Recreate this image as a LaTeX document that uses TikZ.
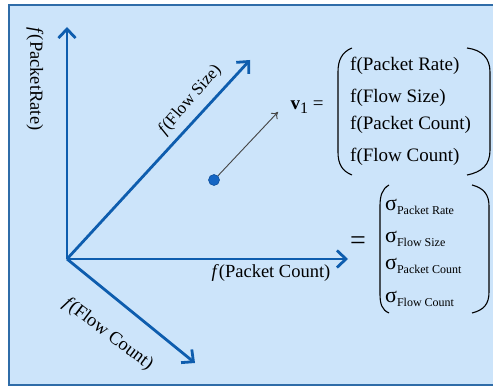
\documentclass[tikz,border=0pt]{standalone}
\usepackage{fontspec}
\setmainfont{Liberation Serif}
\usetikzlibrary{arrows.meta}
\definecolor{bgblue}{HTML}{CCE4FA}
\definecolor{frameblue}{HTML}{2F6CA8}
\definecolor{axisblue}{HTML}{0E5DAE}
\definecolor{dotblue}{HTML}{1566C4}
\definecolor{vecgray}{HTML}{444444}
\begin{document}
\begin{tikzpicture}[x=1pt,y=-1pt,
  axis/.style={line width=2.8pt, draw=axisblue, -{Straight Barb[length=9pt,width=17pt]}},
  lbl/.style={font=\fontsize{18.5}{20}\selectfont, inner sep=0pt},
  row/.style={font=\fontsize{19}{21}\selectfont, inner sep=0pt, anchor=west},
  paren/.style={line width=1.1pt, draw=black}]
\useasboundingbox (0,0) rectangle (493,387);
\fill[bgblue] (8.5,5) rectangle (493,385.5);
\draw[frameblue, line width=2pt] (493,5) -- (8.5,5) -- (8.5,385.5) -- (493,385.5);

% axes
\coordinate (O) at (67,259);
\coordinate (ytop) at (67,27);
\coordinate (fsend) at (250,60);
\coordinate (pcend) at (348,259);
\coordinate (fcend) at (195,363);
\draw[axis] (O) -- (ytop);
\draw[axis] (O) -- (fsend);
\draw[axis] (O) -- (pcend);
\draw[axis] (O) -- (fcend);

% axis labels
\node[lbl, rotate=-90] (lpr) at (35,79) {\textit{f}(PacketRate)};
\node[lbl, rotate=49, font=\fontsize{17}{19}\selectfont] (lfs) at (190,100) {\textit{f}(Flow Size)};
\node[lbl] (lpc) at (271,273) {\textit{f}(Packet Count)};
\node[lbl, rotate=-37] (lfc) at (108,334) {\textit{f}(Flow Count)};

% point and vector
\node[circle, fill=dotblue, draw=dotblue!80!black, line width=0.6pt, minimum size=11pt, inner sep=0pt] (dot) at (214,180) {};
\coordinate (vtip) at (278,112);
\draw[vecgray, line width=0.9pt, -{To[length=6pt,width=9pt]}] (dot) -- (vtip);

% v1 =
\node[lbl, font=\fontsize{19}{21}\selectfont] (v1) at (307,107) {\textbf{v}\raisebox{-4pt}{\fontsize{16}{17}\selectfont 1} =};

% first matrix
\draw[paren] (352,48) .. controls (342,52) and (338,60) .. (338,72) -- (338,152) .. controls (338,164) and (342,171) .. (352,175);
\draw[paren] (467,48) .. controls (482,50) and (490,58) .. (490,72) -- (490,150) .. controls (490,165) and (482,172) .. (467,175);
\node[row] (m1) at (350,66) {f(Packet Rate)};
\node[row] (m2) at (350,98) {f(Flow Size)};
\node[row] (m3) at (350,125) {f(Packet Count)};
\node[row] (m4) at (350,157) {f(Flow Count)};

% equals
\node[lbl, font=\fontsize{28}{30}\selectfont] (eq) at (358,243) {=};

% sigma matrix
\draw[paren] (389,185) .. controls (382,189) and (380,196) .. (380,206) -- (380,294) .. controls (380,304) and (382,310) .. (389,313);
\draw[paren] (472,185) .. controls (484,188) and (489,195) .. (489,206) -- (489,292) .. controls (489,304) and (484,310) .. (472,313);
\node[row, font=\fontsize{22}{24}\selectfont] (s1) at (385,207) {σ\raisebox{-4pt}{\fontsize{12}{13}\selectfont Packet Rate}};
\node[row, font=\fontsize{22}{24}\selectfont] (s2) at (385,239) {σ\raisebox{-4pt}{\fontsize{12}{13}\selectfont Flow Size}};
\node[row, font=\fontsize{22}{24}\selectfont] (s3) at (385,266) {σ\raisebox{-4pt}{\fontsize{12}{13}\selectfont Packet Count}};
\node[row, font=\fontsize{22}{24}\selectfont] (s4) at (385,299) {σ\raisebox{-4pt}{\fontsize{12}{13}\selectfont Flow Count}};
\end{tikzpicture}
\end{document}
